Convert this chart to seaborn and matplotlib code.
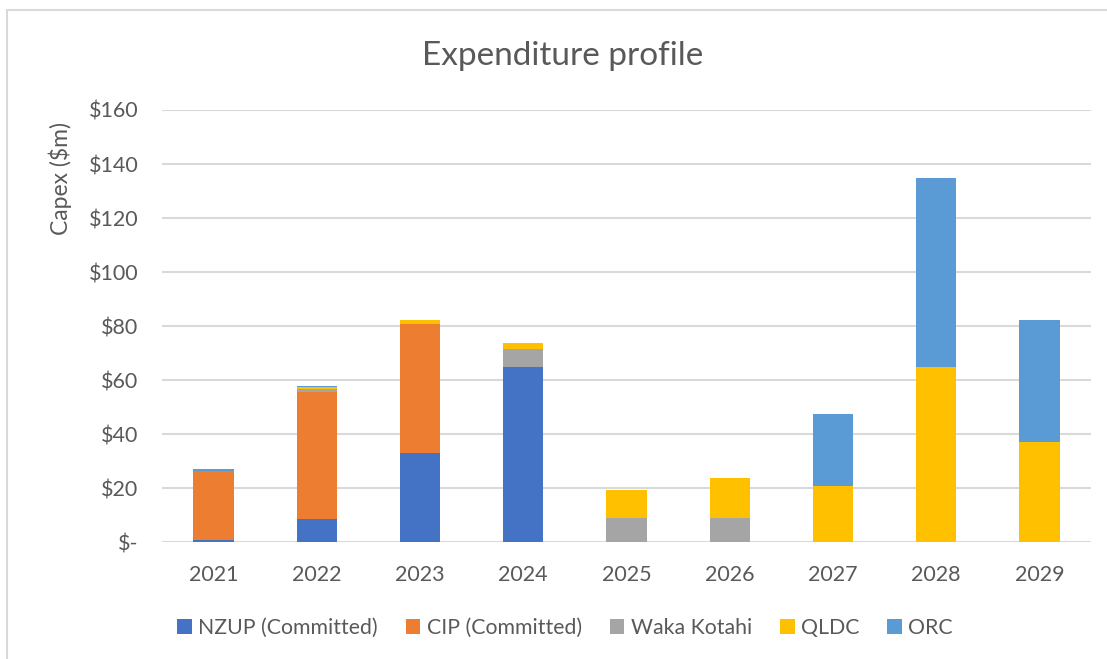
import numpy as np
import pandas as pd
import matplotlib
matplotlib.use("Agg")
import matplotlib.pyplot as plt
from matplotlib.patches import Patch, Rectangle
import seaborn as sns

# Data ($m)
years = ["2021", "2022", "2023", "2024", "2025", "2026", "2027", "2028", "2029"]
nzup = [1.0, 8.6, 33.2, 65.0, 0.0, 0.0, 0.0, 0.0, 0.0]
cip = [25.4, 46.9, 47.5, 0.0, 0.0, 0.0, 0.0, 0.0, 0.0]
waka = [0.0, 1.3, 0.0, 6.7, 9.0, 9.0, 0.0, 0.0, 0.0]
qldc = [0.0, 0.6, 1.4, 1.9, 10.5, 14.7, 20.8, 65.0, 37.0]
orc = [0.6, 0.4, 0.0, 0.0, 0.0, 0.0, 26.6, 69.8, 45.1]

series = ["NZUP (Committed)", "CIP (Committed)", "Waka Kotahi", "QLDC", "ORC"]
colors = ["#4472C4", "#ED7D31", "#A5A5A5", "#FFC000", "#5B9BD5"]
y_ticks = [0, 20, 40, 60, 80, 100, 120, 140, 160]
y_labels = ["$-", "$20", "$40", "$60", "$80", "$100", "$120", "$140", "$160"]

df = pd.DataFrame({"year": years, series[0]: nzup, series[1]: cip,
                   series[2]: waka, series[3]: qldc, series[4]: orc})
cum = df[series].cumsum(axis=1)

sns.set_theme(style="white")
plt.rcParams["font.family"] = ["Lato", "DejaVu Sans"]
text_col = "#595959"
grid_col = "#D9D9D9"

fig = plt.figure(figsize=(11.07, 6.59), dpi=100)
ax = fig.add_axes([162 / 1107, 1 - 542.3 / 659, (1091 - 162) / 1107, (542.3 - 110) / 659])

# stacked bars: draw cumulative totals from the top series down
for name, col in zip(series[::-1], colors[::-1]):
    sns.barplot(x=df["year"], y=cum[name], order=years, color=col, width=0.39,
                saturation=1, linewidth=0, ax=ax, zorder=3)

ax.set_ylim(0, 160)
ax.set_yticks(y_ticks)
ax.set_yticklabels(y_labels)
ax.yaxis.grid(True, color=grid_col, linewidth=1.5, zorder=0)
ax.set_axisbelow(True)
for s in ax.spines.values():
    s.set_visible(False)
ax.tick_params(axis="both", length=0, labelsize=15.5, labelcolor=text_col)
ax.tick_params(axis="y", pad=17)
ax.tick_params(axis="x", pad=16.5)
ax.set_xlabel("")
ax.set_ylabel("")

fig.text(563 / 1107, 1 - 56 / 659, "Expenditure profile", ha="center", va="center",
         fontsize=24, color=text_col)
fig.text(60 / 1107, 1 - 179 / 659, "Capex ($m)", ha="center", va="center",
         rotation=90, fontsize=16.5, color=text_col)

handles = [Patch(facecolor=c, edgecolor="none") for c in colors]
leg = fig.legend(handles, series, loc="center", bbox_to_anchor=(565 / 1107, 1 - 628 / 659),
                 ncol=5, frameon=False, fontsize=15.3, handlelength=0.7, handleheight=0.7,
                 handletextpad=0.3, columnspacing=1.3)
for t in leg.get_texts():
    t.set_color(text_col)

# outer chart frame (only top and left edges visible in the crop)
fig.patches.append(Rectangle((7 / 1107, -0.1), 1.2, 1.1 - 10 / 659, transform=fig.transFigure,
                             fill=False, edgecolor=grid_col, linewidth=1.5))

fig.savefig("out.png", dpi=100)
